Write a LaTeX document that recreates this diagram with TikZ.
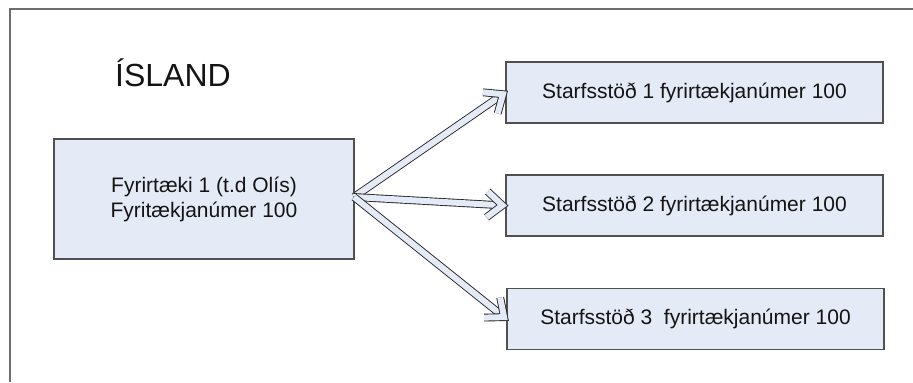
\documentclass[tikz,border=0pt]{standalone}
\usepackage{fontspec}
\setmainfont{Liberation Sans}
\usetikzlibrary{calc}
\definecolor{boxfill}{RGB}{228,234,246}
\definecolor{boxline}{RGB}{80,80,80}
\definecolor{frameline}{RGB}{110,110,110}
\definecolor{txt}{RGB}{20,20,20}
\tikzset{
  entity/.style={draw=boxline, line width=1.1bp, fill=boxfill, text=txt,
    inner sep=0pt, align=center, font=\fontsize{21bp}{25bp}\selectfont},
  blockline/.style={draw=black!85, line width=0.9bp, double=boxfill,
    double distance=6bp, line join=miter, line cap=butt},
  title/.style={text=txt, inner sep=0pt, font=\fontsize{32bp}{38bp}\selectfont}
}
\newcommand\myblockarrow[2]{%
  \coordinate (tp) at ($(#2)!3bp!(#1)$);
  \draw[blockline] (#1) -- ($(tp)!6bp!(#1)$);
  \draw[blockline] ($(tp)!20bp!40:(#1)$) -- (tp) -- ($(tp)!20bp!-40:(#1)$);
}
\begin{document}
\begin{tikzpicture}[x=1bp, y=-1bp]
\useasboundingbox (0,0) rectangle (913,382);
\coordinate (ftl) at (10,9);
\coordinate (ftr) at (913,9);
\coordinate (fbl) at (10,382);
\draw[frameline, line width=1.4bp] (fbl) -- (ftl) -- (ftr);
\node[title, anchor=base] (isl) at (173,86) {ÍSLAND};
\node[entity, minimum width=300bp, minimum height=120bp] (comp) at (204,199)
  {Fyrirtæki 1 (t.d Olís)\\Fyritækjanúmer 100};
\node[entity, minimum width=377bp, minimum height=61bp] (s1) at (694.5,92.5)
  {Starfsstöð 1 fyrirtækjanúmer 100};
\node[entity, minimum width=377bp, minimum height=61bp] (s2) at (694.5,205.5)
  {Starfsstöð 2 fyrirtækjanúmer 100};
\node[entity, minimum width=377bp, minimum height=61bp] (s3) at (695.5,319)
  {Starfsstöð 3\ \ fyrirtækjanúmer 100};
\coordinate (src) at (354,197);
\myblockarrow{src}{s1.west}
\myblockarrow{src}{s2.west}
\myblockarrow{src}{s3.west}
\end{tikzpicture}
\end{document}
